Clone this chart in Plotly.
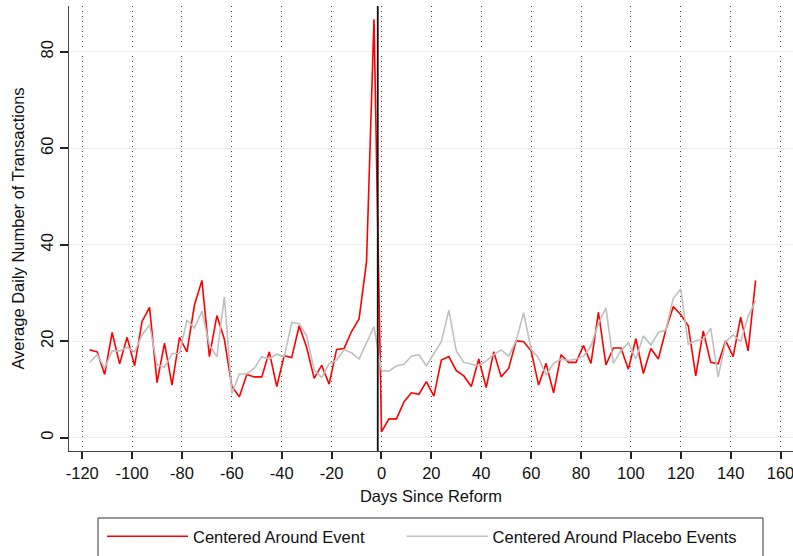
import plotly.graph_objects as go

days = [-117, -114, -111, -108, -105, -102, -99, -96, -93, -90,
        -87, -84, -81, -78, -75, -72, -69, -66, -63, -60,
        -57, -54, -51, -48, -45, -42, -39, -36, -33, -30,
        -27, -24, -21, -18, -15, -12, -9, -6, -3,
        0, 3, 6, 9, 12, 15, 18, 21, 24, 27,
        30, 33, 36, 39, 42, 45, 48, 51, 54, 57,
        60, 63, 66, 69, 72, 75, 78, 81, 84, 87,
        90, 93, 96, 99, 102, 105, 108, 111, 114, 117,
        120, 123, 126, 129, 132, 135, 138, 141, 144, 147, 150]

event_values = [18.2, 17.8, 13.1, 21.8, 15.3, 20.8, 14.9, 24.1, 27.0, 11.4,
                19.6, 10.9, 20.8, 17.8, 27.5, 32.6, 16.8, 25.3, 20.4, 10.6,
                8.5, 13.1, 12.6, 12.6, 17.8, 10.6, 17.0, 16.6, 23.2, 18.7,
                12.3, 15.0, 11.1, 18.3, 18.5, 22.0, 24.6, 36.5, 86.7,
                1.2, 3.9, 3.9, 7.4, 9.3, 9.0, 11.6, 8.6, 16.1, 16.8,
                13.9, 12.8, 10.6, 16.3, 10.4, 17.8, 12.6, 14.4, 20.1, 19.9,
                18.0, 10.9, 15.4, 9.3, 17.2, 15.6, 15.6, 19.1, 15.4, 26.0,
                15.1, 18.6, 18.6, 14.2, 20.5, 13.3, 18.5, 16.3, 22.3, 27.2,
                25.5, 23.2, 12.8, 22.1, 15.6, 15.3, 20.1, 16.8, 25.0, 18.0, 32.6]

placebo_values = [15.6, 17.2, 14.4, 18.0, 18.0, 18.7, 17.8, 21.3, 23.4, 15.1,
                  14.6, 17.4, 17.5, 24.4, 22.7, 26.2, 19.2, 16.8, 29.2, 9.1,
                  13.2, 13.2, 14.4, 16.8, 16.3, 17.3, 16.8, 23.9, 23.6, 21.1,
                  14.0, 12.5, 15.3, 16.1, 18.2, 17.6, 16.3, 19.6, 23.0,
                  13.9, 13.8, 14.9, 15.2, 16.9, 17.2, 14.9, 17.5, 19.9, 26.4,
                  18.0, 15.6, 15.3, 14.9, 15.9, 17.2, 18.2, 16.9, 20.1, 25.9,
                  18.3, 16.5, 13.0, 15.4, 16.3, 16.0, 16.3, 16.9, 19.0, 23.7,
                  26.9, 15.4, 18.0, 19.7, 16.3, 21.1, 19.2, 21.8, 22.3, 28.9,
                  30.8, 19.4, 20.1, 20.4, 22.7, 12.6, 19.9, 21.3, 19.9, 25.1, 28.4]

x_ticks = [-120, -100, -80, -60, -40, -20, 0, 20, 40, 60, 80, 100, 120, 140, 160]
y_ticks = [0, 20, 40, 60, 80]
event_line_day = -1.5

series_names = ["Centered Around Event", "Centered Around Placebo Events"]

FONT = "Liberation Sans, Arial, sans-serif"
FS = 16.5

W, H = 793, 556
ML, MR, MT, MB = 69, 0, 6, 105
PW, PH = W - ML - MR, H - MT - MB


def px_to_paper_x(px):
    return (px - ML) / PW


def px_to_paper_y(py):
    return (H - MB - py) / PH


fig = go.Figure()
fig.add_trace(go.Scatter(x=days, y=event_values, mode="lines", name=series_names[0],
                         legend="legend",
                         line=dict(color="#ff0000", width=1.6)))
fig.add_trace(go.Scatter(x=days, y=placebo_values, mode="lines", name=series_names[1],
                         legend="legend2",
                         line=dict(color="#c0c0c0", width=1.6)))

# event marker line
fig.add_shape(type="line", xref="x", yref="paper", x0=event_line_day, x1=event_line_day,
              y0=0, y1=1, line=dict(color="#111111", width=1.8), layer="above")

# legend frame
fig.add_shape(type="rect", xref="paper", yref="paper",
              x0=px_to_paper_x(98), x1=px_to_paper_x(763),
              y0=px_to_paper_y(518), y1=px_to_paper_y(640),
              line=dict(color="#333333", width=1), fillcolor="rgba(0,0,0,0)")

legend_common = dict(orientation="h", xref="container", yref="container",
                     xanchor="left", yanchor="top", y=1 - 519 / H,
                     borderwidth=0, itemwidth=81, bgcolor="rgba(0,0,0,0)",
                     font=dict(size=FS, family=FONT, color="#111111"))

fig.update_layout(
    width=W, height=H,
    margin=dict(l=ML, r=MR, t=MT, b=MB, autoexpand=False),
    paper_bgcolor="white", plot_bgcolor="white",
    font=dict(family=FONT, size=FS, color="#111111"),
    showlegend=True,
    legend=dict(x=102 / W, **legend_common),
    legend2=dict(x=401.6 / W, **legend_common),
    xaxis=dict(range=[-125.3, 165.0], tickvals=x_ticks, ticktext=[str(v) for v in x_ticks],
               automargin=False, ticklabeloverflow="allow",
               ticks="outside", ticklen=7, tickwidth=1.5, tickcolor="#222222",
               showline=True, linecolor="#444444", linewidth=1.3,
               showgrid=True, gridcolor="#444444", gridwidth=1, griddash="1px,4px",
               zeroline=False, tickfont=dict(size=FS),
               title=dict(text="Days Since Reform", font=dict(size=FS), standoff=9)),
    yaxis=dict(range=[-2.76, 89.47], tickvals=y_ticks, ticktext=[str(v) for v in y_ticks],
               automargin=False, tickangle=-90, ticklabeloverflow="allow",
               ticks="outside", ticklen=8, tickwidth=1.5, tickcolor="#222222",
               showline=True, linecolor="#444444", linewidth=1.3,
               showgrid=True, gridcolor="#e8eff1", gridwidth=1.2,
               zeroline=False, tickfont=dict(size=FS),
               title=dict(text="Average Daily Number of Transactions", font=dict(size=FS), standoff=9)),
)

fig.write_html("out.html", config={"displayModeBar": False},
               post_script="document.body.style.margin='0px';document.body.style.overflow='hidden';")
